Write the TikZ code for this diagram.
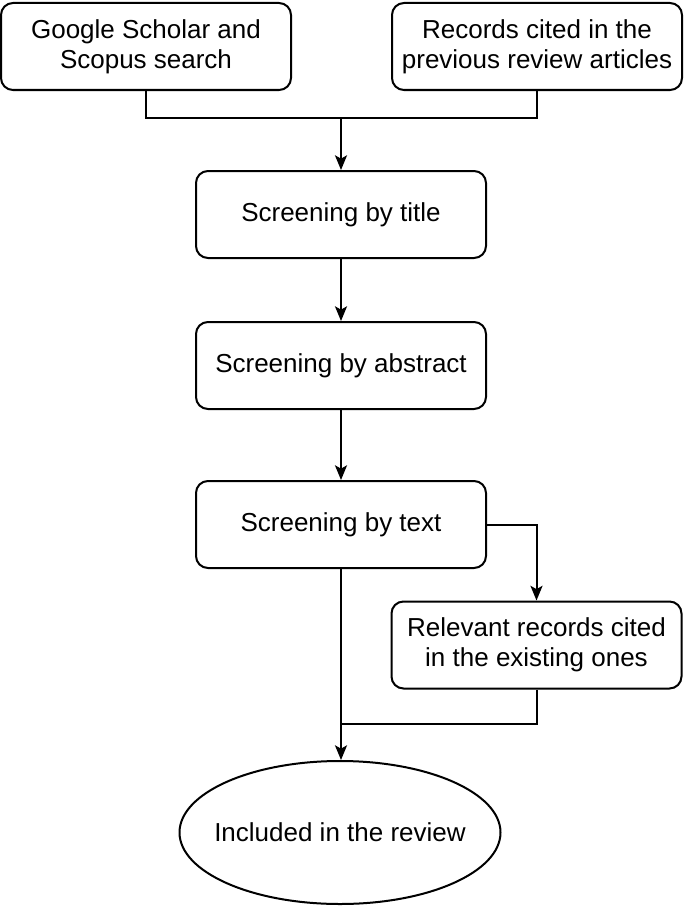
\documentclass[tikz,border=0pt]{standalone}
\usepackage{fontspec}
\setmainfont{Liberation Sans}
\usetikzlibrary{arrows.meta,shapes.geometric}

\tikzset{every picture/.style={line width=1.5pt}}
\tikzset{
	stepbox/.style={draw, rounded corners=9pt, minimum width=217.5pt, minimum height=65.25pt, align=center, inner sep=2pt, font=\fontsize{19.5}{22.5}\selectfont},
	endbox/.style={draw, ellipse, minimum width=240.75pt, minimum height=107.25pt, inner xsep=-12pt, inner ysep=0pt, font=\fontsize{19.5}{22.5}\selectfont},
	flow/.style={-{Stealth[length=11pt,width=9pt,inset=2.5pt]}}
}

\begin{document}
\begin{tikzpicture}[x=0.75pt,y=0.75pt,yscale=-1,xscale=1]
	\useasboundingbox (0,0) rectangle (685,906);

	% Sources
	\node [stepbox] (gs) at (146,46.5) {Google Scholar and\\Scopus search};
	\node [stepbox] (rec) at (537,46.5) {Records cited in the\\previous review articles};

	% Screening steps
	\node [stepbox] (title) at (341,214.5) {Screening by title};
	\node [stepbox] (abstr) at (341,365.5) {Screening by abstract};
	\node [stepbox] (txt) at (341,524.5) {Screening by text};
	\node [stepbox] (rel) at (536.5,645) {Relevant records cited\\in the existing ones};

	% Result
	\node [endbox] (inc) at (340,832.5) {Included in the review};

	\coordinate (join) at (341,118);
	\coordinate (merge) at (341,724);

	% Connectors
	\draw (gs.south) |- (join) -| (rec.south);
	\draw [flow] (join) -- (title);
	\draw [flow] (title) -- (abstr);
	\draw [flow] (abstr) -- (txt);
	\draw [flow] (txt.east) -| (rel.north);
	\draw [flow] (txt) -- (inc.north -| txt);
	\draw (rel.south) |- (merge);

\end{tikzpicture}
\end{document}
